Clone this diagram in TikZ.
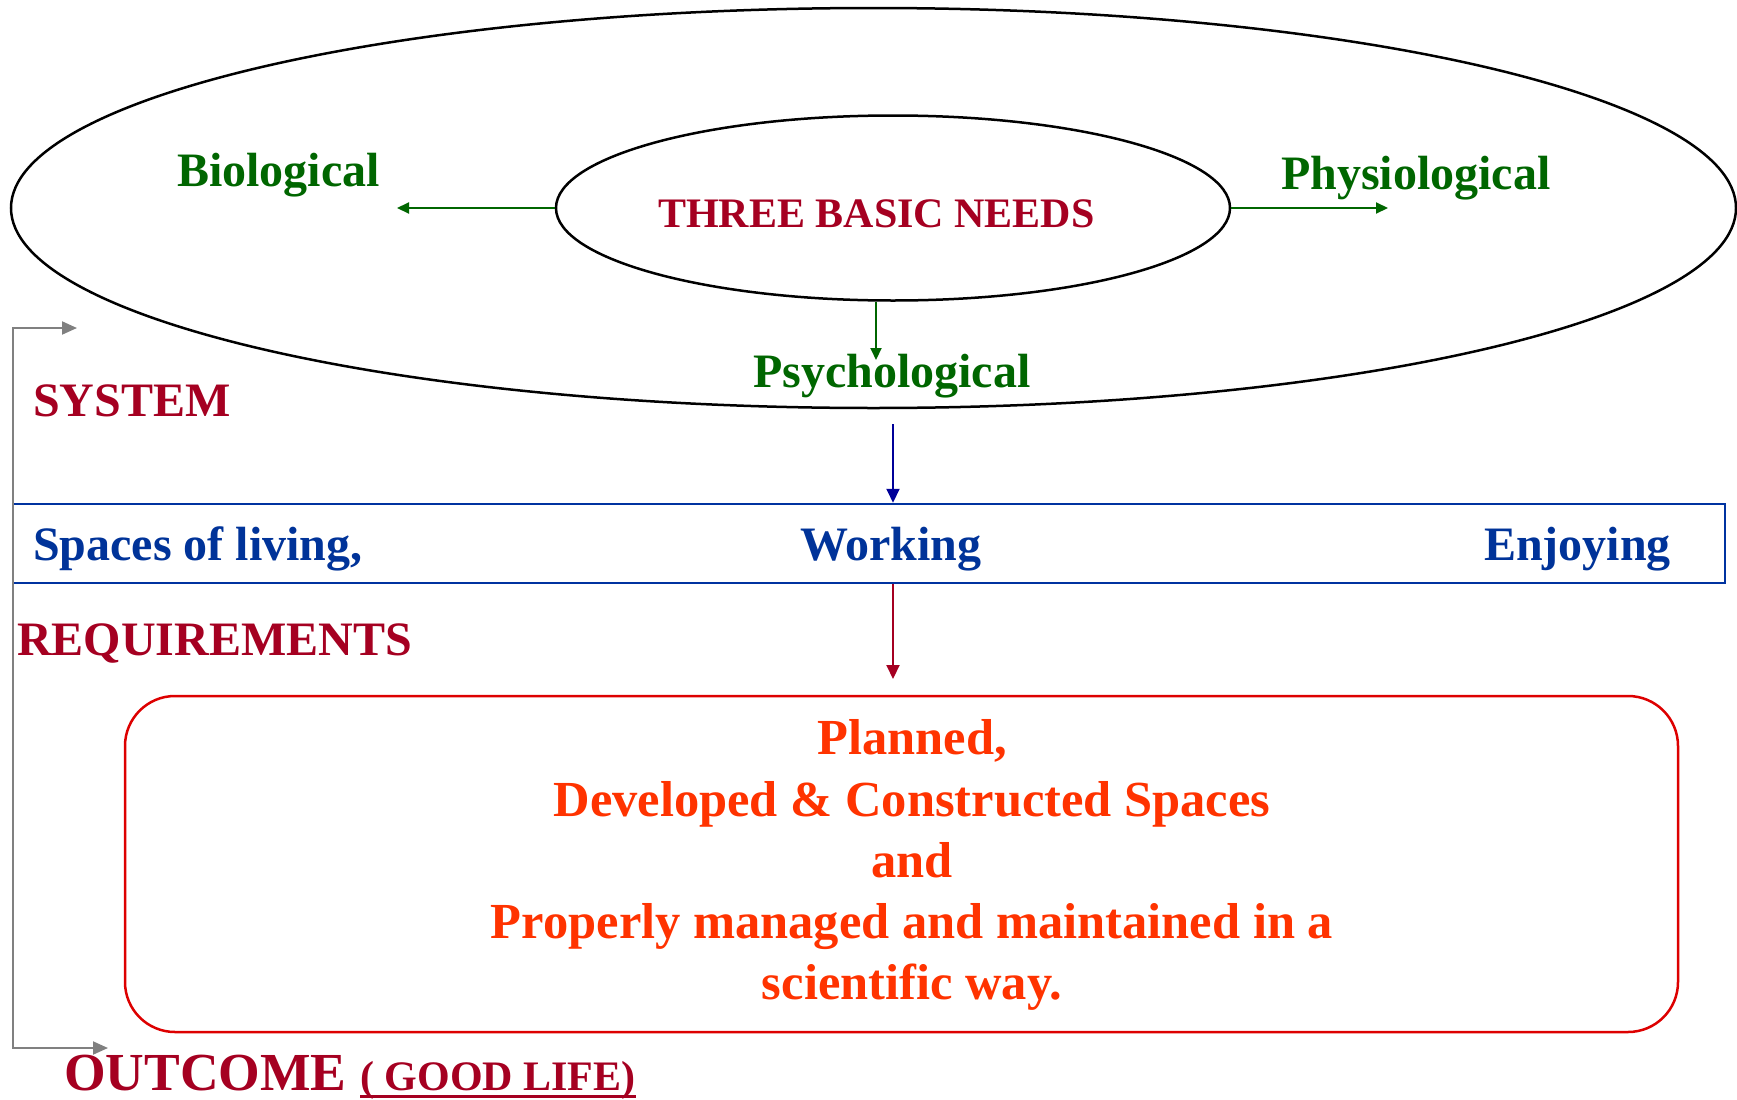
\documentclass[tikz,border=0pt]{standalone}
\usepackage{fontspec}
\setmainfont{Liberation Serif}
\usetikzlibrary{shapes.geometric,arrows.meta}
\definecolor{needred}{HTML}{A50021}
\definecolor{needgreen}{HTML}{006600}
\definecolor{spaceblue}{HTML}{003399}
\definecolor{boxblue}{HTML}{0033A0}
\definecolor{arrowblue}{HTML}{000099}
\definecolor{boxred}{HTML}{DD0000}
\definecolor{planorange}{HTML}{FF3300}
\definecolor{loopgray}{HTML}{808080}
\newcommand{\fs}[1]{\fontsize{#1}{#1}\selectfont\bfseries}
\tikzset{
  ring/.style={draw=black, line width=2.5pt, ellipse, inner sep=0pt},
  lbl/.style={inner sep=0pt, anchor=base west},
  needtxt/.style={lbl, text=needgreen, font=\fs{48}},
  spacetxt/.style={lbl, text=spaceblue, font=\fs{48}},
  headtxt/.style={lbl, text=needred, font=\fs{48}},
  plantxt/.style={inner sep=0pt, anchor=base, text=planorange, font=\fs{50.5}},
  garrow/.style={draw=needgreen, line width=2pt, -{Triangle[length=12pt,width=11pt]}},
  flowarrow/.style={line width=2pt, -{Triangle[length=14pt,width=13pt]}},
}
\begin{document}
\begin{tikzpicture}[x=1pt,y=-1pt]
\useasboundingbox (0,0) rectangle (1737,1100);

% the two ellipses of needs
\node[ring, minimum width=1725pt, minimum height=400pt] (outer) at (873.5,208) {};
\node[ring, minimum width=674pt, minimum height=185pt] (needs) at (893,208) {};
\node[lbl, text=needred, font=\fs{42}] (needstxt) at (658,227) {THREE BASIC NEEDS};

% the three kinds of needs
\node[needtxt] (bio) at (177,186) {Biological};
\node[needtxt] (physio) at (1281,189) {Physiological};
\node[needtxt] (psycho) at (753,387) {Psychological};
\coordinate (bioend) at (397,208);
\coordinate (physend) at (1388,208);
\coordinate (psyend) at (876,360);
\draw[garrow] (needs.west) -- (bioend);
\draw[garrow] (needs.east) -- (physend);
\draw[garrow] (needs.south -| psyend) -- (psyend);

% system: spaces
\node[headtxt] (system) at (33,416) {SYSTEM};
\node[draw=boxblue, line width=2.5pt, minimum width=1712pt, minimum height=79pt, inner sep=0pt] (spaces) at (869,543.5) {};
\node[spacetxt] (living) at (33,560) {Spaces of living,};
\node[spacetxt] (working) at (800,560) {Working};
\node[spacetxt] (enjoying) at (1484,560) {Enjoying};
\coordinate (sysstart) at (893,424);
\draw[flowarrow, draw=arrowblue] (sysstart) -- (spaces.north -| sysstart);

% requirements
\node[headtxt] (req) at (17,655) {REQUIREMENTS};
\node[draw=boxred, line width=2.5pt, rounded corners=50pt, minimum width=1553pt, minimum height=336pt, inner sep=0pt] (plan) at (901.5,864) {};
\coordinate (reqend) at (893,679);
\draw[flowarrow, draw=needred] (spaces.south -| reqend) -- (reqend);
\node[plantxt] (l1) at (912,754) {Planned,};
\node[plantxt] (l2) at (912,816) {Developed \& Constructed Spaces};
\node[plantxt] (l3) at (912,877) {and};
\node[plantxt] (l4) at (912,938) {Properly managed and maintained in a};
\node[plantxt] (l5) at (912,999) {scientific way.};

% outcome and the feedback loop
\node[lbl, text=needred, font=\fs{53.5}] (outcome) at (64,1090) {OUTCOME};
\node[lbl, text=needred, font=\fs{42}] (good) at (360,1090) {( GOOD LIFE)};
\draw[needred, line width=2.2pt] ([yshift=-6.5pt]good.base west) -- ([yshift=-6.5pt]good.base east);
\coordinate (gtop) at (77,328);
\coordinate (gtl) at (13,328);
\coordinate (gbl) at (13,1048);
\coordinate (gbot) at (108,1048);
\draw[draw=loopgray, line width=2pt, {Triangle[length=15pt,width=13pt]}-{Triangle[length=15pt,width=13pt]}] (gtop) -- (gtl) -- (gbl) -- (gbot);
\end{tikzpicture}
\end{document}
